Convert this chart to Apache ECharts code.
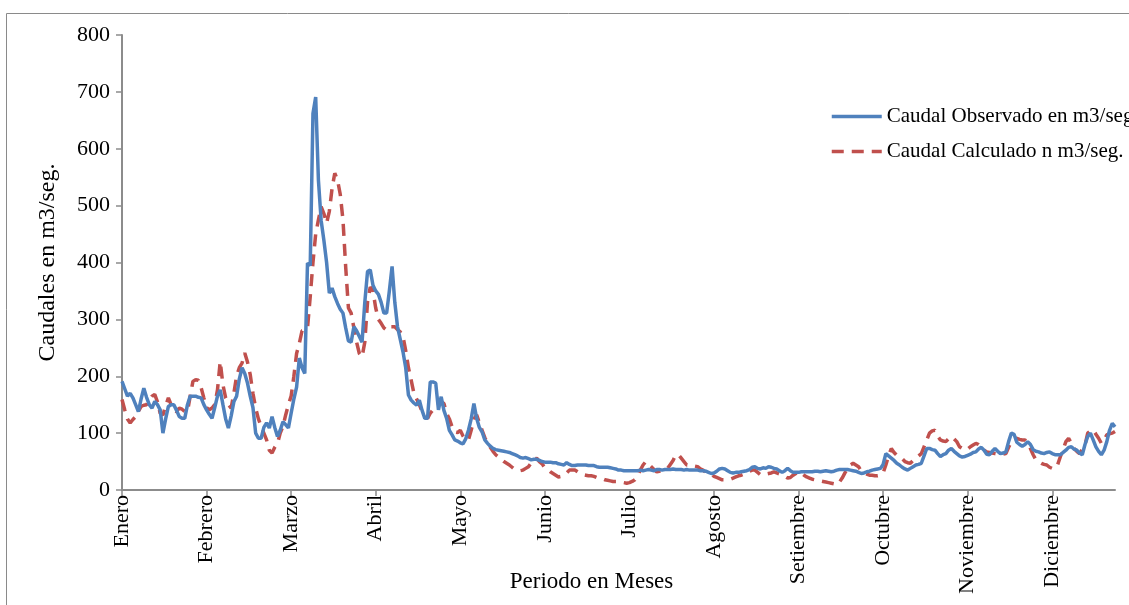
<!DOCTYPE html>
<html>
<head>
<meta charset="utf-8">
<script src="https://cdn.jsdelivr.net/npm/echarts@6/dist/echarts.min.js"></script>
<style>
  html, body { margin: 0; padding: 0; background: #fff; }
  #chart { width: 1129px; height: 605px; }
</style>
</head>
<body>
<div id="chart"></div>
<script>
// month labels shown every 31 days along the category axis
const monthLabels = ['Enero', 'Febrero', 'Marzo', 'Abril', 'Mayo', 'Junio', 'Julio',
  'Agosto', 'Setiembre', 'Octubre', 'Noviembre', 'Diciembre'];

// daily flow, m3/seg
const observado = [
  191,178,165,170,162,150,138,160,179,163,
  150,144,156,150,141,100,125,147,150,150,
  140,129,126,126,150,165,165,165,163,162,
  150,141,133,126,145,165,176,150,125,109,
  130,155,165,195,215,205,188,165,145,100,
  91,91,110,118,109,129,110,94,105,120,
  115,109,135,160,181,232,215,205,399,395,
  662,691,545,474,439,400,346,355,340,328,
  318,311,285,262,260,287,280,270,260,330,
  384,387,360,350,344,330,311,311,350,393,
  330,287,265,243,215,167,158,153,149,158,
  140,126,126,190,190,188,141,164,140,126,
  105,97,88,86,83,81,90,105,125,152,
  126,110,102,88,82,77,73,71,70,69,
  68,67,66,64,62,60,57,56,57,55,
  53,54,54,52,50,49,49,49,48,48,
  46,45,44,48,45,43,43,44,44,44,
  44,43,43,43,41,40,40,40,40,39,
  38,37,35,35,34,34,34,34,34,34,
  35,34,35,36,35,34,36,36,35,36,
  36,36,37,36,36,36,35,36,35,35,
  35,35,34,34,33,31,29,30,33,37,
  38,37,34,31,30,31,31,32,33,34,
  36,40,41,38,37,39,38,41,40,38,
  37,34,31,34,38,34,31,31,31,32,
  32,32,32,32,33,33,32,33,34,33,
  32,33,35,36,36,36,36,35,34,33,
  31,29,30,32,33,35,36,37,38,45,
  64,60,56,52,47,44,40,37,35,38,
  41,44,45,47,60,73,73,71,70,64,
  59,62,64,70,73,68,64,60,58,59,
  61,63,66,67,72,75,70,63,62,68,
  73,68,64,65,67,85,100,98,84,80,
  77,80,85,80,71,68,67,65,64,66,
  67,64,62,62,62,66,70,75,76,72,
  70,65,62,80,94,100,88,76,68,62,
  70,85,105,117,111
];

const calculado = [
  159,141,125,118,124,129,138,147,149,150,
  158,165,168,155,135,132,148,162,150,140,
  138,144,142,138,138,165,191,194,193,180,
  162,145,141,144,150,176,226,185,162,150,
  144,170,200,215,223,241,225,203,170,144,
  125,112,100,88,70,65,75,82,100,112,
  132,150,165,200,240,258,280,281,285,340,
  400,450,475,498,486,469,490,530,557,545,
  520,475,392,320,311,285,260,240,234,260,
  330,357,350,320,300,293,285,281,287,287,
  287,282,278,270,245,215,193,170,160,150,
  138,129,126,135,141,144,150,155,152,135,
  125,111,102,101,105,95,88,88,105,125,
  132,118,105,92,82,75,68,62,58,54,
  50,47,44,40,36,35,34,35,38,41,
  48,53,56,50,46,39,36,32,29,26,
  23,24,26,30,35,35,35,32,29,27,
  26,25,25,24,22,21,20,18,17,16,
  15,15,15,14,13,12,13,15,18,25,
  35,44,50,46,41,36,32,33,35,37,
  38,45,52,62,62,56,50,44,44,44,
  42,41,37,35,31,29,27,24,22,20,
  18,18,18,19,21,23,25,26,28,31,
  33,35,35,31,27,27,28,29,30,32,
  30,28,26,24,21,22,26,29,32,30,
  26,23,21,19,18,17,16,15,14,13,
  12,11,9,14,21,30,38,44,47,44,
  41,33,30,28,26,26,25,25,26,30,
  44,60,73,66,61,59,55,50,48,47,
  52,56,60,64,76,88,100,104,105,95,
  88,86,85,90,94,90,85,76,73,70,
  72,76,79,82,80,76,70,67,66,65,
  64,63,62,63,64,75,85,90,91,89,
  88,88,82,73,62,53,50,47,45,44,
  40,38,38,45,59,72,85,91,82,73,
  68,64,72,79,100,104,106,98,91,82,
  88,97,99,100,103
];

const days = observado.map((v, i) => String(i + 1));

const font = 'Liberation Serif';
const axisGray = '#8c8c8c';

const chart = echarts.init(document.getElementById('chart'));

chart.setOption({
  animation: false,
  backgroundColor: '#fff',
  textStyle: { fontFamily: font, color: '#000' },
  graphic: [{
    type: 'rect',
    shape: { x: 6.5, y: 13.5, width: 1140, height: 620 },
    style: { fill: 'none', stroke: '#8a8a8a', lineWidth: 1 },
    silent: true
  }],
  legend: {
    orient: 'vertical',
    left: 830,
    top: 106,
    padding: 0,
    itemWidth: 50,
    itemHeight: 12,
    itemGap: 14,
    itemStyle: { opacity: 0 },
    lineStyle: { width: 3.5 },
    textStyle: { fontFamily: font, fontSize: 21, color: '#000' },
    data: ['Caudal Observado en m3/seg', 'Caudal Calculado n m3/seg.']
  },
  grid: { left: 122, right: 14, top: 35, bottom: 115, outerBoundsMode: 'none' },
  xAxis: {
    type: 'category',
    data: days,
    boundaryGap: false,
    name: 'Periodo en Meses',
    nameLocation: 'middle',
    nameGap: 80,
    nameMoveOverlap: false,
    nameTextStyle: { fontFamily: font, fontSize: 23, color: '#000', padding: [0, 54, 0, 0] },
    axisLine: { lineStyle: { color: axisGray, width: 2 } },
    axisTick: { interval: 30, length: 6, lineStyle: { color: axisGray, width: 1.5 } },
    axisLabel: {
      interval: 30,
      rotate: 90,
      margin: 5,
      fontFamily: font,
      fontSize: 22,
      color: '#000',
      formatter: (val, idx) => (idx % 31 === 0 ? monthLabels[idx / 31] || '' : '')
    },
    splitLine: { show: false }
  },
  yAxis: {
    type: 'value',
    min: 0,
    max: 800,
    interval: 100,
    name: 'Caudales en m3/seg.',
    nameLocation: 'middle',
    nameGap: 62,
    nameRotate: 90,
    nameMoveOverlap: false,
    nameTextStyle: { fontFamily: font, fontSize: 24, color: '#000' },
    axisLine: { show: true, lineStyle: { color: axisGray, width: 2 } },
    axisTick: { show: true, length: 6, lineStyle: { color: axisGray, width: 1.5 } },
    axisLabel: { margin: 12, fontFamily: font, fontSize: 22, color: '#000' },
    splitLine: { show: false }
  },
  series: [
    {
      name: 'Caudal Observado en m3/seg',
      type: 'line',
      data: observado,
      showSymbol: false,
      lineStyle: { color: '#4f81bd', width: 3.5 },
      itemStyle: { color: '#4f81bd' },
      z: 3
    },
    {
      name: 'Caudal Calculado n m3/seg.',
      type: 'line',
      data: calculado,
      showSymbol: false,
      lineStyle: { color: '#c0504d', width: 3.5, type: [12, 8] },
      itemStyle: { color: '#c0504d' },
      z: 2
    }
  ]
});
</script>
</body>
</html>
